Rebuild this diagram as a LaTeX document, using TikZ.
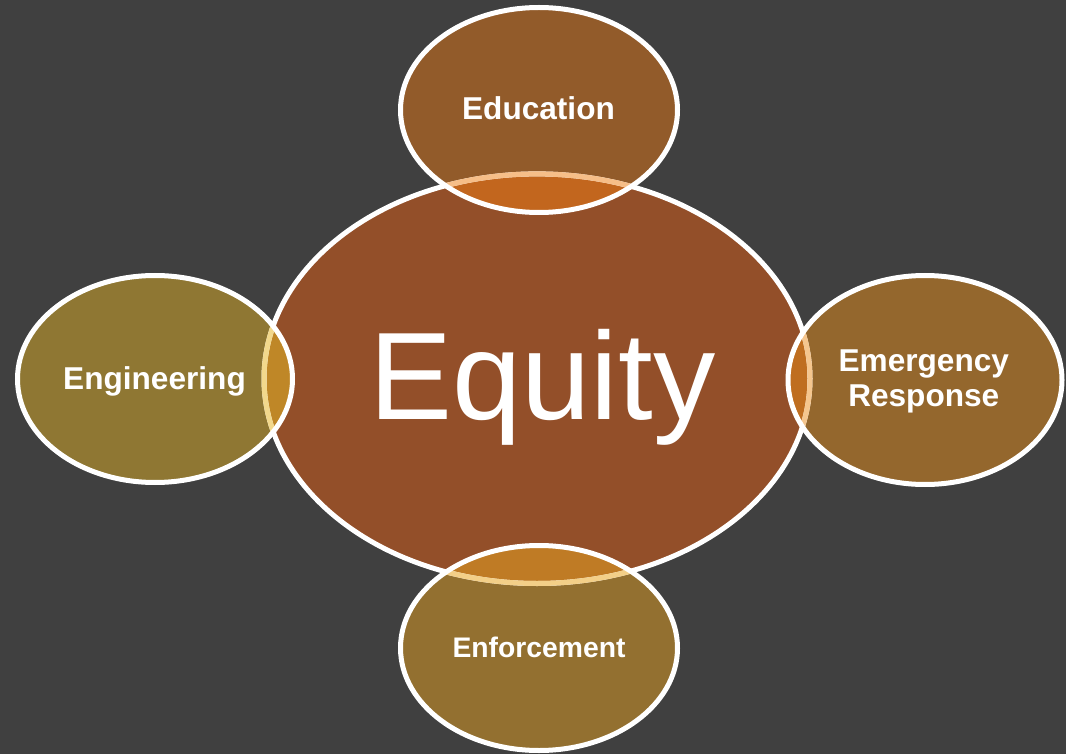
\documentclass[tikz,border=0pt]{standalone}
\usepackage{fontspec}
\setmainfont{Liberation Sans}
\usetikzlibrary{shapes.geometric}
\definecolor{bgc}{HTML}{404040}
\definecolor{cfill}{HTML}{934F29}
\definecolor{edufill}{HTML}{925B2A}
\definecolor{engfill}{HTML}{8F7733}
\definecolor{emgfill}{HTML}{94672D}
\definecolor{enffill}{HTML}{937030}
\definecolor{eduov}{HTML}{C2661E}
\definecolor{engov}{HTML}{BF8727}
\definecolor{emgov}{HTML}{BF6E20}
\definecolor{enfov}{HTML}{BF7B25}
\definecolor{edult}{HTML}{F6BE88}
\definecolor{englt}{HTML}{F2D88C}
\definecolor{emglt}{HTML}{F5C68E}
\definecolor{enflt}{HTML}{F3CF88}
\tikzset{
  ring/.style={ellipse, draw=white, line width=5pt, inner sep=0pt, outer sep=0pt},
  lbl/.style={text=white, font=\bfseries\fontsize{31.6}{35}\selectfont, inner sep=0pt},
  bigl/.style={text=white, font=\fontsize{124.5}{130}\selectfont, inner sep=0pt, anchor=base},
}
% geometry: centre / radii
\def\Cpath{(537,-378.7) ellipse [x radius=273pt, y radius=204.8pt]}
\def\Edpath{(539,-110) ellipse [x radius=138.5pt, y radius=102.5pt]}
\def\Enpath{(539,-648) ellipse [x radius=138.5pt, y radius=102.5pt]}
\def\Egpath{(155,-379) ellipse [x radius=137.5pt, y radius=103.5pt]}
\def\Empath{(925,-380) ellipse [x radius=137pt, y radius=104.5pt]}
\begin{document}
\begin{tikzpicture}[x=1pt,y=1pt]
  \fill[bgc] (0,0) rectangle (1066,-754);
  \useasboundingbox (0,0) rectangle (1066,-754);
  % fills
  \fill[cfill] \Cpath;
  \fill[edufill] \Edpath;
  \fill[enffill] \Enpath;
  \fill[engfill] \Egpath;
  \fill[emgfill] \Empath;
  % overlaps
  \begin{scope}\clip \Cpath; \fill[eduov] \Edpath; \end{scope}
  \begin{scope}\clip \Cpath; \fill[enfov] \Enpath; \end{scope}
  \begin{scope}\clip \Cpath; \fill[engov] \Egpath; \end{scope}
  \begin{scope}\clip \Cpath; \fill[emgov] \Empath; \end{scope}
  % centre ring
  \node[ring, minimum width=546pt, minimum height=409.6pt] (equity) at (537,-378.7) {};
  % centre border seen through the satellites
  \begin{scope}\clip \Edpath; \draw[edult, line width=5pt] \Cpath; \end{scope}
  \begin{scope}\clip \Enpath; \draw[enflt, line width=5pt] \Cpath; \end{scope}
  \begin{scope}\clip \Egpath; \draw[englt, line width=5pt] \Cpath; \end{scope}
  \begin{scope}\clip \Empath; \draw[emglt, line width=5pt] \Cpath; \end{scope}
  % satellite rings
  \node[ring, minimum width=277pt, minimum height=205pt] (education) at (539,-110) {};
  \node[ring, minimum width=277pt, minimum height=205pt] (enforcement) at (539,-648) {};
  \node[ring, minimum width=275pt, minimum height=207pt] (engineering) at (155,-379) {};
  \node[ring, minimum width=274pt, minimum height=209pt] (emergency) at (925,-380) {};
  % texts
  \node[bigl] (equitytxt) at (542.5,-419.3) {Equity};
  \node[lbl, anchor=base] (edutxt) at (538.5,-120) {Education};
  \node[lbl, anchor=base] (engtxt) at (154.5,-389.3) {Engineering};
  \node[lbl, anchor=base, font=\bfseries\fontsize{28.3}{32}\selectfont] (enftxt) at (539,-657.7) {Enforcement};
  \node[lbl, align=center] (emgtxt) at (923.8,-381.5) {Emergency\\Response};
\end{tikzpicture}
\end{document}
